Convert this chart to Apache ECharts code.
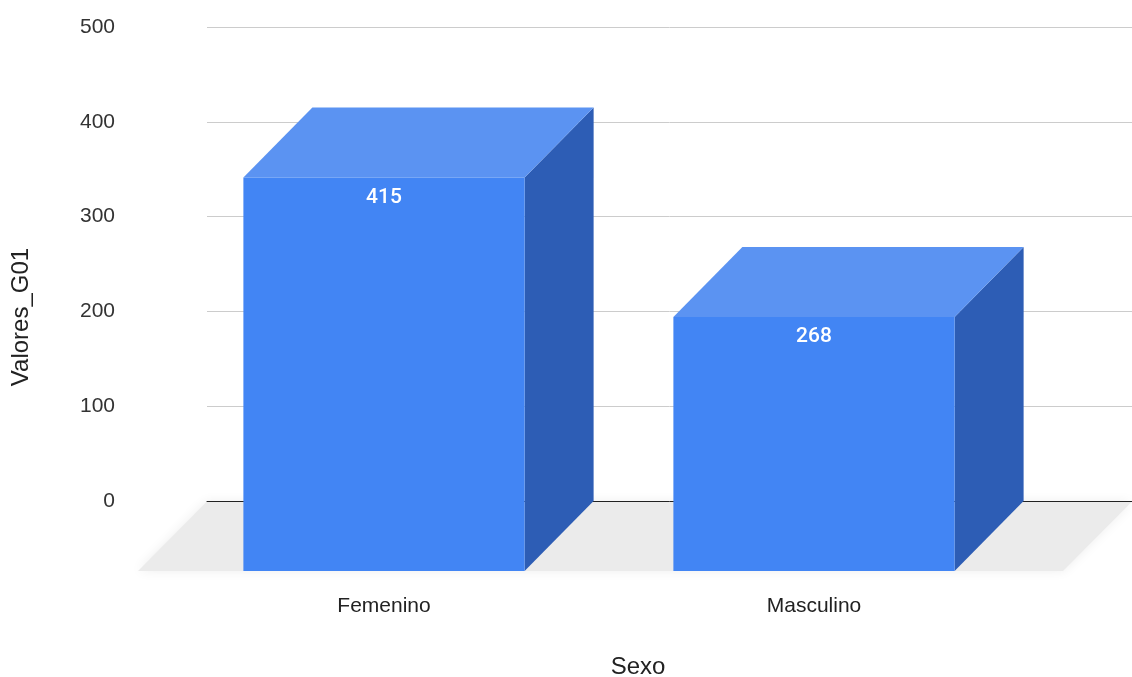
<!DOCTYPE html>
<html>
<head>
<meta charset="utf-8">
<style>
  html, body { margin: 0; padding: 0; background: #ffffff; }
  #chart { width: 1132px; height: 677px; }
</style>
<script src="https://cdn.jsdelivr.net/npm/echarts@6/dist/echarts.min.js"></script>
</head>
<body>
<div id="chart"></div>
<script>
// Data
const categories = ['Femenino', 'Masculino'];
const values = [415, 268];
const yTicks = { min: 0, max: 500, interval: 100 };

const FONT = '"Liberation Sans", Arial, sans-serif';
// 3D look: offset of the front face from the back face, in pixels
const DEPTH_X = -69;
const DEPTH_Y = 70;

const COLOR_FRONT = '#4285f4';
const COLOR_TOP = '#5b93f2';
const COLOR_SIDE = '#2d5db5';

function renderFloor(params, api) {
  const cs = params.coordSys;
  const y0 = api.coord([0, 0])[1];
  return {
    type: 'polygon',
    shape: {
      points: [
        [cs.x, y0 + 0.5],
        [cs.x + cs.width, y0 + 0.5],
        [cs.x + cs.width + DEPTH_X, y0 + DEPTH_Y],
        [cs.x + DEPTH_X, y0 + DEPTH_Y]
      ]
    },
    style: { fill: '#ebebeb', shadowBlur: 12, shadowColor: 'rgba(0,0,0,0.07)' },
    silent: true
  };
}

function renderBox(params, api) {
  const idx = api.value(0);
  const val = api.value(1);
  const top = api.coord([idx, val]);
  const y0 = api.coord([idx, 0])[1];
  const w = api.size([1, 0])[0] * 0.654;
  const xl = top[0] - w / 2;
  const xr = top[0] + w / 2;
  const yt = top[1];
  return {
    type: 'group',
    children: [
      {
        type: 'polygon',
        shape: { points: [[xr, yt], [xr, y0], [xr + DEPTH_X, y0 + DEPTH_Y], [xr + DEPTH_X, yt + DEPTH_Y]] },
        style: { fill: COLOR_SIDE }
      },
      {
        type: 'polygon',
        shape: { points: [[xl, yt], [xr, yt], [xr + DEPTH_X, yt + DEPTH_Y], [xl + DEPTH_X, yt + DEPTH_Y]] },
        style: { fill: COLOR_TOP }
      },
      {
        type: 'rect',
        shape: { x: xl + DEPTH_X, y: yt + DEPTH_Y, width: w, height: y0 - yt },
        style: { fill: COLOR_FRONT }
      },
      {
        type: 'text',
        style: {
          text: String(val),
          x: top[0] + DEPTH_X,
          y: yt + DEPTH_Y + 20,
          align: 'center',
          verticalAlign: 'middle',
          fill: '#ffffff',
          font: '500 21px Roboto, ' + FONT
        }
      }
    ]
  };
}

const chart = echarts.init(document.getElementById('chart'), null, { renderer: 'canvas' });

chart.setOption({
  animation: false,
  backgroundColor: '#ffffff',
  textStyle: { fontFamily: FONT },
  title: {
    text: 'Sexo',
    left: 633,
    top: 650,
    textAlign: 'center',
    textStyle: { fontFamily: FONT, fontSize: 24, fontWeight: 'normal', color: '#222222' }
  },
  grid: [
    // back wall: gridlines, value axis, baseline
    { left: 207, right: 0, top: 27, bottom: 176 },
    // boxes (positioned on the back wall)
    { left: 238, right: 34, top: 27, bottom: 176 },
    // front plane: category labels
    { left: 169, right: 103, top: 97, bottom: 105 }
  ],
  xAxis: [
    {
      gridIndex: 0, type: 'category', data: categories, z: 3,
      axisLine: { show: true, lineStyle: { color: '#222222', width: 1 } },
      axisTick: { show: false }, axisLabel: { show: false }, splitLine: { show: false }
    },
    {
      gridIndex: 1, type: 'category', data: categories, show: false
    },
    {
      gridIndex: 2, type: 'category', data: categories,
      axisLine: { show: false }, axisTick: { show: false }, splitLine: { show: false },
      axisLabel: { fontSize: 21, color: '#222222', margin: 24, fontFamily: FONT }
    }
  ],
  yAxis: [
    {
      gridIndex: 0, type: 'value', min: yTicks.min, max: yTicks.max, interval: yTicks.interval, z: 3,
      axisLine: { show: false }, axisTick: { show: false },
      axisLabel: { fontSize: 21, color: '#333333', margin: 92, fontFamily: FONT },
      splitLine: { show: true, lineStyle: { color: '#cccccc', width: 1 } },
      name: 'Valores_G01', nameLocation: 'middle', nameRotate: 90, nameGap: 174,
      nameTextStyle: { fontSize: 24, color: '#222222', fontFamily: FONT, padding: [0, 106, 0, 0] }
    },
    {
      gridIndex: 1, type: 'value', min: yTicks.min, max: yTicks.max, interval: yTicks.interval, show: false
    },
    {
      gridIndex: 2, type: 'value', min: yTicks.min, max: yTicks.max, show: false
    }
  ],
  series: [
    {
      type: 'custom', name: 'floor', xAxisIndex: 0, yAxisIndex: 0, z: 2, silent: true,
      renderItem: renderFloor, data: [[0, 0]]
    },
    {
      type: 'custom', name: 'Valores_G01', xAxisIndex: 1, yAxisIndex: 1, z: 4,
      renderItem: renderBox,
      encode: { x: 0, y: 1 },
      data: categories.map((c, i) => [i, values[i]])
    }
  ]
});
</script>
</body>
</html>
